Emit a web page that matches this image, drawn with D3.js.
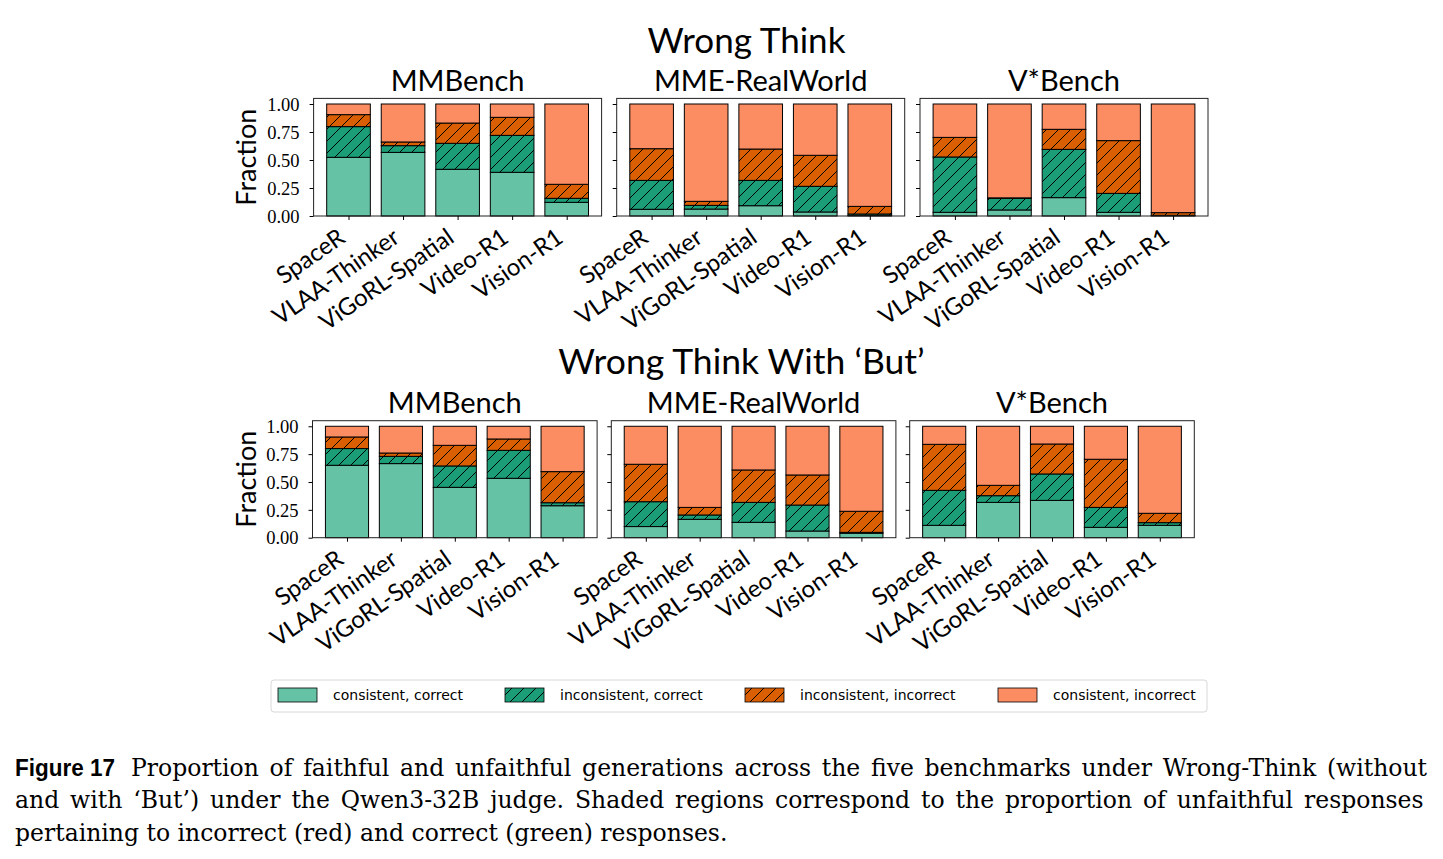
<!DOCTYPE html>
<html>
<head>
<meta charset="utf-8">
<script src="https://cdn.jsdelivr.net/npm/d3@7"></script>
<style>
  body { margin: 0; background: #fff; }
  text { fill: #000; }
</style>
</head>
<body>
<script>
// ---- data ----
const models = ["SpaceR", "VLAA-Thinker", "ViGoRL-Spatial", "Video-R1", "Vision-R1"];
const benchmarks = ["MMBench", "MME-RealWorld", "V*Bench"];
const categories = ["consistent, correct", "inconsistent, correct", "inconsistent, incorrect", "consistent, incorrect"];
const yTicks = [0, 0.25, 0.5, 0.75, 1.0];

// each: [consistent correct, inconsistent correct, inconsistent incorrect, consistent incorrect]
const wrongThinkMMBench = [
    [0.524, 0.568, 0.417, 0.390, 0.122],
    [0.274, 0.060, 0.232, 0.330, 0.036],
    [0.107, 0.033, 0.181, 0.161, 0.125],
    [0.095, 0.339, 0.170, 0.119, 0.717]
];
const wrongThinkMME = [
    [0.060, 0.062, 0.092, 0.036, 0.005],
    [0.258, 0.033, 0.226, 0.229, 0.013],
    [0.283, 0.036, 0.280, 0.277, 0.068],
    [0.399, 0.869, 0.402, 0.458, 0.914]
];
const wrongThinkVStar = [
    [0.033, 0.054, 0.164, 0.033, 0.003],
    [0.494, 0.104, 0.431, 0.169, 0.003],
    [0.175, 0.004, 0.179, 0.471, 0.024],
    [0.298, 0.838, 0.226, 0.327, 0.970]
];
const butMMBench = [
    [0.650, 0.665, 0.452, 0.533, 0.287],
    [0.150, 0.065, 0.192, 0.251, 0.027],
    [0.104, 0.030, 0.185, 0.102, 0.279],
    [0.096, 0.240, 0.171, 0.114, 0.407]
];
const butMME = [
    [0.100, 0.165, 0.138, 0.060, 0.040],
    [0.223, 0.039, 0.179, 0.233, 0.008],
    [0.336, 0.068, 0.291, 0.270, 0.189],
    [0.341, 0.728, 0.392, 0.437, 0.763]
];
const butVStar = [
    [0.111, 0.317, 0.335, 0.093, 0.111],
    [0.314, 0.060, 0.237, 0.179, 0.024],
    [0.413, 0.093, 0.269, 0.432, 0.084],
    [0.162, 0.530, 0.159, 0.296, 0.781]
];

const colors = ["#66c2a5", "#1b9e77", "#d95f02", "#fc8d62"];
const hatched = [false, true, true, false];

const sans = "Lato, 'Open Sans', sans-serif";
const serif = "'Liberation Serif', 'DejaVu Serif', serif";

const rows = [
    { title: "Wrong Think", titleX: 746.5, titleY: 53, titleSize: 35, subY: 91,
      top: 98.4, bottom: 216, xs: [313.6, 616.7, 920], w: 288,
      data: [wrongThinkMMBench, wrongThinkMME, wrongThinkVStar] },
    { title: "Wrong Think With \u2018But\u2019", titleX: 741.5, titleY: 374, titleSize: 35.5, subY: 413,
      top: 420.7, bottom: 537.7, xs: [312.5, 611.3, 909.7], w: 284.6,
      data: [butMMBench, butMME, butVStar] }
];

const svg = d3.select("body").append("svg")
    .attr("width", 1443)
    .attr("height", 859);

const defs = svg.append("defs");
function hatch(id, color) {
    const p = defs.append("pattern")
        .attr("id", id)
        .attr("patternUnits", "userSpaceOnUse")
        .attr("width", 12)
        .attr("height", 12);
    p.append("rect").attr("width", 12).attr("height", 12).attr("fill", color);
    p.append("path")
        .attr("d", "M-3,3L3,-3M0,12L12,0M9,15L15,9")
        .attr("stroke", "#000")
        .attr("stroke-width", 1);
}
hatch("hatch1", colors[1]);
hatch("hatch2", colors[2]);
const fillFor = i => hatched[i] ? `url(#hatch${i})` : colors[i];

rows.forEach(row => {
    svg.append("text")
        .attr("x", row.titleX)
        .attr("y", row.titleY)
        .attr("text-anchor", "middle")
        .style("font-family", sans)
        .style("font-size", row.titleSize + "px")
        .text(row.title);

    const y = d3.scaleLinear().domain([0, 1.05]).range([row.bottom, row.top]);

    svg.append("text")
        .attr("transform", `translate(256,${(row.top + row.bottom) / 2}) rotate(-90)`)
        .attr("text-anchor", "middle")
        .style("font-family", sans)
        .style("font-size", "27px")
        .text("Fraction");

    benchmarks.forEach((bench, bi) => {
        const x0 = row.xs[bi];
        const x = d3.scaleLinear().domain([-0.64, 4.64]).range([x0, x0 + row.w]);
        const g = svg.append("g");

        // stack the four categories
        const records = models.map((m, mi) => {
            const r = { model: m, idx: mi };
            categories.forEach((c, ci) => r[c] = row.data[bi][ci][mi]);
            return r;
        });
        const stacked = d3.stack().keys(categories)(records);

        stacked.forEach((layer, li) => {
            g.append("g").selectAll("rect")
                .data(layer)
                .join("rect")
                .attr("x", d => x(d.data.idx - 0.4))
                .attr("width", x(0.8) - x(0))
                .attr("y", d => y(d[1]))
                .attr("height", d => y(d[0]) - y(d[1]))
                .attr("fill", fillFor(li))
                .attr("stroke", "#000")
                .attr("stroke-width", 1);
        });

        // frame
        g.append("rect")
            .attr("x", x0).attr("y", row.top)
            .attr("width", row.w).attr("height", row.bottom - row.top)
            .attr("fill", "none")
            .attr("stroke", "#222")
            .attr("stroke-width", 1);

        // y axis
        const yAxis = d3.axisLeft(y).tickValues(yTicks).tickSize(4)
            .tickFormat(bi === 0 ? d3.format(".2f") : () => "");
        const ya = g.append("g").attr("transform", `translate(${x0},0)`).call(yAxis);
        ya.select(".domain").remove();
        ya.selectAll("text")
            .attr("x", -14)
            .attr("dy", "0.34em")
            .style("font-family", serif)
            .style("font-size", "18.5px");

        // x axis
        const xAxis = d3.axisBottom(x).tickValues(d3.range(models.length)).tickSize(4).tickFormat("");
        const xa = g.append("g").attr("transform", `translate(0,${row.bottom})`).call(xAxis);
        xa.select(".domain").remove();

        g.append("g").selectAll("text")
            .data(models)
            .join("text")
            .attr("transform", (d, i) => `translate(${x(i) - 2},${row.bottom + 25}) rotate(-35)`)
            .attr("text-anchor", "end")
            .style("font-family", sans)
            .style("font-size", "24px")
            .text(d => d);

        // subplot title
        g.append("text")
            .attr("x", x0 + row.w / 2)
            .attr("y", row.subY)
            .attr("text-anchor", "middle")
            .style("font-family", sans)
            .style("font-size", "29px")
            .text(bench);
    });
});

// ---- legend ----
const legend = svg.append("g");
legend.append("rect")
    .attr("x", 271).attr("y", 680).attr("width", 936).attr("height", 32)
    .attr("rx", 3)
    .attr("fill", "#fff")
    .attr("stroke", "#d8d8d8");
const legendX = [278, 505, 745, 998];
categories.forEach((c, i) => {
    legend.append("rect")
        .attr("x", legendX[i]).attr("y", 688)
        .attr("width", 39).attr("height", 14)
        .attr("fill", fillFor(i))
        .attr("stroke", "#000")
        .attr("stroke-width", 0.8);
    legend.append("text")
        .attr("x", legendX[i] + 55)
        .attr("y", 700)
        .style("font-family", "'DejaVu Sans', sans-serif")
        .style("font-size", "14px")
        .text(c);
});

// ---- caption ----
const captionFont = "'DejaVu Serif', serif";
const captionLines = [
    { x: 131, y: 775.5, right: 1427, text: "Proportion of faithful and unfaithful generations across the five benchmarks under Wrong-Think (without" },
    { x: 15, y: 808, right: 1427, text: "and with \u2018But\u2019) under the Qwen3-32B judge.  Shaded regions correspond to the proportion of unfaithful responses" },
    { x: 15, y: 840.5, right: null, text: "pertaining to incorrect (red) and correct (green) responses." }
];
svg.append("text")
    .attr("x", 15).attr("y", 775.5)
    .style("font-family", "'Liberation Sans', Arial, sans-serif")
    .style("font-weight", "bold")
    .style("font-size", "23px")
    .attr("textLength", 100)
    .attr("lengthAdjust", "spacingAndGlyphs")
    .text("Figure 17");

captionLines.forEach(l => {
    const t = svg.append("text")
        .attr("x", l.x).attr("y", l.y)
        .style("font-family", captionFont)
        .style("font-size", "23.5px")
        .text(l.text);
    if (l.right) {
        const natural = t.node().getComputedTextLength();
        const spaces = (l.text.match(/ /g) || []).length;
        t.style("word-spacing", ((l.right - l.x - natural) / spaces) + "px");
    }
});
</script>
</body>
</html>
